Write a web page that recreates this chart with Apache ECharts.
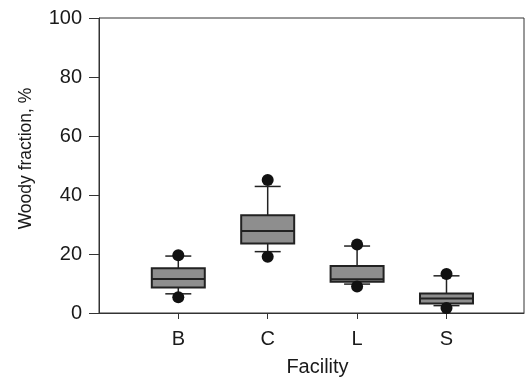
<!DOCTYPE html>
<html>
<head>
<meta charset="utf-8">
<script src="https://cdn.jsdelivr.net/npm/echarts@6/dist/echarts.min.js"></script>
<style>
html,body{margin:0;padding:0;background:#fff;}
#chart{width:527px;height:382px;}
</style>
</head>
<body>
<div id="chart"></div>
<script>
// Data
const categories = ['B', 'C', 'L', 'S'];
const categoryPos = [1, 2, 3, 4];
const whiskerLow = [6.5, 20.8, 9.8, 2.5];
const quart1 = [8.65, 23.6, 10.6, 3.2];
const medians = [11.5, 27.8, 11.4, 4.9];
const quart3 = [15.2, 33.1, 15.9, 6.6];
const whiskerHigh = [19.3, 42.9, 22.7, 12.6];
const outlierHigh = [19.6, 45.1, 23.2, 13.2];
const outlierLow = [5.3, 19.1, 9.0, 1.7];
const yTicks = [0, 20, 40, 60, 80, 100];

const boxData = categoryPos.map((x, i) => [x, whiskerLow[i], quart1[i], medians[i], quart3[i], whiskerHigh[i]]);
const outlierData = [];
categoryPos.forEach((x, i) => {
  outlierData.push([x, outlierHigh[i]]);
  outlierData.push([x, outlierLow[i]]);
});

const FONT = 'Liberation Sans, Arial, sans-serif';
const INK = '#1a1a1a';

const chart = echarts.init(document.getElementById('chart'), null, {renderer: 'canvas'});
chart.setOption({
  backgroundColor: '#fff',
  animation: false,
  grid: {left: 99, top: 18, right: 3, bottom: 67, show: true, borderColor: '#333', borderWidth: 1, backgroundColor: 'transparent'},
  xAxis: {
    type: 'value',
    min: 0.113,
    max: 4.867,
    name: 'Facility',
    nameLocation: 'middle',
    nameGap: 44,
    nameTextStyle: {fontFamily: FONT, fontSize: 20, color: INK, padding: [0, 0, 0, 12]},
    splitLine: {show: false},
    axisLine: {show: true, lineStyle: {color: '#333', width: 1}},
    axisTick: {show: true, inside: false, length: 6, customValues: categoryPos, lineStyle: {color: '#333'}},
    axisLabel: {
      customValues: categoryPos,
      margin: 16,
      fontFamily: FONT, fontSize: 20, color: INK,
      formatter: v => categories[categoryPos.indexOf(Math.round(v))] || ''
    }
  },
  yAxis: {
    type: 'value',
    min: 0,
    max: 100,
    interval: 20,
    name: 'Woody fraction, %',
    nameLocation: 'middle',
    nameGap: 64,
    nameTextStyle: {fontFamily: FONT, fontSize: 17.5, color: INK, padding: [0, 0, 0, 14]},
    splitLine: {show: false},
    axisLine: {show: true, lineStyle: {color: '#333', width: 1}},
    axisTick: {show: true, inside: false, length: 10, lineStyle: {color: '#333'}},
    axisLabel: {margin: 17, fontFamily: FONT, fontSize: 20, color: INK,
      formatter: v => yTicks.indexOf(v) >= 0 ? String(v) : ''}
  },
  series: [
    {
      type: 'custom',
      data: boxData,
      encode: {x: 0, y: [1, 2, 3, 4, 5]},
      z: 2,
      renderItem: function (params, api) {
        const x = api.value(0);
        const lo = api.coord([x, api.value(1)]);
        const q1 = api.coord([x, api.value(2)]);
        const md = api.coord([x, api.value(3)]);
        const q3 = api.coord([x, api.value(4)]);
        const hi = api.coord([x, api.value(5)]);
        const hb = 26.5, hc = 13;
        const lineStyle = {stroke: '#222', lineWidth: 1.5};
        return {
          type: 'group',
          children: [
            {type: 'line', shape: {x1: hi[0], y1: hi[1], x2: q3[0], y2: q3[1]}, style: lineStyle},
            {type: 'line', shape: {x1: lo[0], y1: lo[1], x2: q1[0], y2: q1[1]}, style: lineStyle},
            {type: 'line', shape: {x1: hi[0] - hc, y1: hi[1], x2: hi[0] + hc, y2: hi[1]}, style: lineStyle},
            {type: 'line', shape: {x1: lo[0] - hc, y1: lo[1], x2: lo[0] + hc, y2: lo[1]}, style: lineStyle},
            {type: 'rect', shape: {x: q3[0] - hb, y: q3[1], width: hb * 2, height: q1[1] - q3[1]},
              style: {fill: '#8e8e8e', stroke: '#222', lineWidth: 2}},
            {type: 'line', shape: {x1: md[0] - hb, y1: md[1], x2: md[0] + hb, y2: md[1]}, style: {stroke: '#222', lineWidth: 2}}
          ]
        };
      }
    },
    {
      type: 'scatter',
      data: outlierData,
      symbol: 'circle',
      symbolSize: 12,
      z: 3,
      itemStyle: {color: '#111', opacity: 1}
    }
  ]
});
</script>
</body>
</html>
